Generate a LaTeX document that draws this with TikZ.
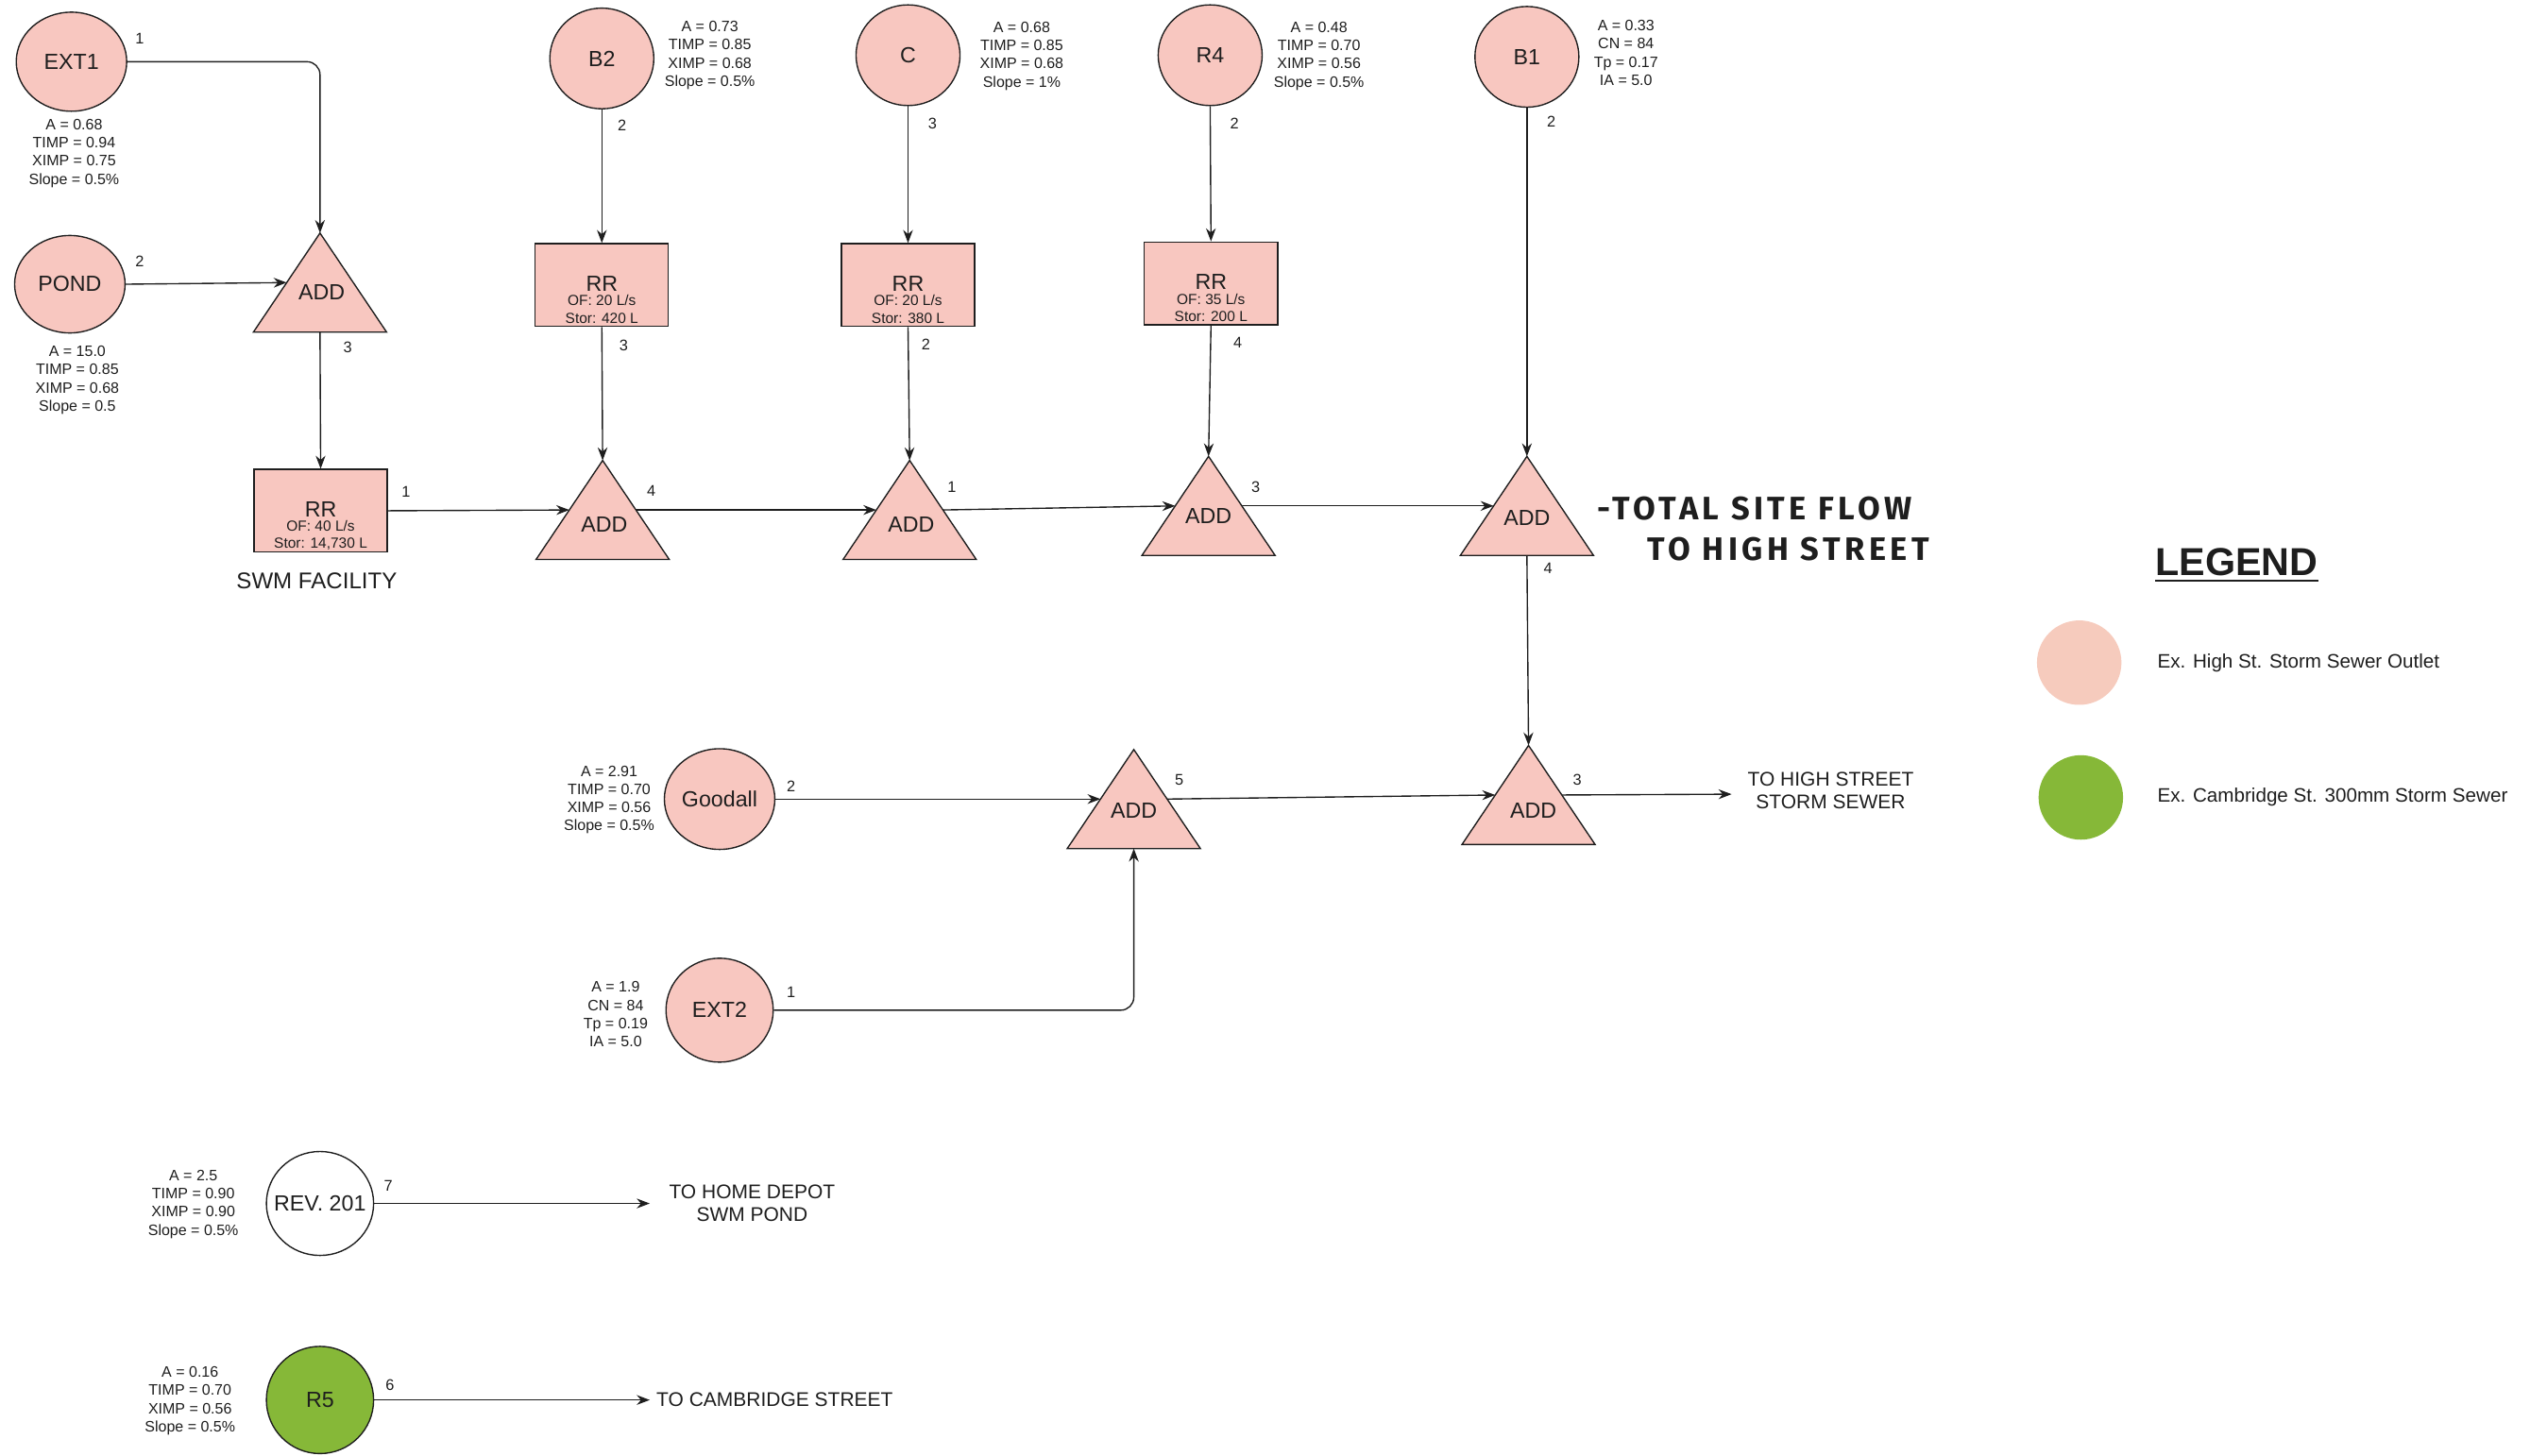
\documentclass[tikz,border=0pt]{standalone}
\usepackage{fontspec}
\setmainfont{Liberation Sans}
\newfontfamily\handfont[LetterSpace=13]{Fira Sans}
\usetikzlibrary{arrows.meta,calc,shapes.geometric}
\pgfdeclarelayer{background}
\pgfsetlayers{background,main}
\definecolor{pinkfill}{RGB}{248,199,192}
\definecolor{legpink}{RGB}{246,203,189}
\definecolor{grn}{RGB}{134,184,56}
\definecolor{ink}{RGB}{30,30,30}
\begin{document}
\begin{tikzpicture}[x=1pt,y=-1pt,
  sub/.style={ellipse, draw=ink, line width=0.8pt, fill=pinkfill, minimum width=66pt, minimum height=62pt, inner sep=0pt, text=ink, font=\fontsize{13.5}{16}\selectfont},
  tri/.style={rectangle, minimum width=82pt, minimum height=61pt, inner sep=0pt, outer sep=0pt},
  triline/.style={draw=ink, line width=0.8pt, fill=pinkfill, line join=miter},
  rrbox/.style={rectangle, draw=ink, line width=0.8pt, fill=pinkfill, minimum width=82pt, minimum height=51pt, inner sep=0pt},
  big/.style={inner sep=0pt, text=ink, font=\fontsize{13.5}{16}\selectfont},
  small/.style={inner sep=0pt, text=ink, font=\fontsize{9}{10}\selectfont},
  param/.style={align=center, inner sep=0pt, text=ink, font=\fontsize{9.3}{11.2}\selectfont},
  num/.style={inner sep=0pt, text=ink, font=\fontsize{9.5}{10}\selectfont},
  dest/.style={align=center, inner sep=0pt, text=ink, font=\fontsize{12.2}{14}\selectfont},
  flow/.style={draw=ink, line width=0.8pt, -{Stealth[length=8pt,width=6pt]}},
  hand/.style={anchor=west, inner sep=0pt, text=ink, font=\handfont\bfseries\fontsize{20}{22}\selectfont}
]
\useasboundingbox (0,0) rectangle (1568,896);

% ---- sub-catchments
\node[sub, minimum width=68pt, minimum height=61pt] (ext1) at (44,38) {EXT1};
\node[sub, minimum width=68pt, minimum height=60pt] (pond) at (43,175) {POND};
\node[sub, minimum width=64pt] (b2) at (370.5,36) {B2};
\node[sub, minimum width=64pt] (c) at (559,34) {C};
\node[sub, minimum width=64pt] (r4) at (745,34) {R4};
\node[sub, minimum width=64pt] (b1) at (940,35) {B1};
\node[sub, minimum width=68pt] (good) at (443,492) {\makebox[0pt]{Goodall}};
\node[sub, minimum height=64pt] (ext2) at (443,622) {EXT2};
\node[sub, fill=white, minimum height=64pt] (rev) at (197,741) {\makebox[0pt]{REV. 201}};
\node[sub, fill=grn, minimum height=66pt] (r5) at (197,862) {R5};

% ---- parameters
\node[param] (p-ext1) at (45.6,94.3) {A = 0.68\\TIMP = 0.94\\XIMP = 0.75\\Slope = 0.5\%};
\node[param] (p-pond) at (47.6,234) {A = 15.0\\TIMP = 0.85\\XIMP = 0.68\\Slope = 0.5};
\node[param] (p-b2) at (437,34) {A = 0.73\\TIMP = 0.85\\XIMP = 0.68\\Slope = 0.5\%};
\node[param] (p-c) at (629,34.5) {A = 0.68\\TIMP = 0.85\\XIMP = 0.68\\Slope = 1\%};
\node[param] (p-r4) at (812,34.5) {A = 0.48\\TIMP = 0.70\\XIMP = 0.56\\Slope = 0.5\%};
\node[param] (p-b1) at (1001,32.5) {A = 0.33\\CN = 84\\Tp = 0.17\\IA = 5.0};
\node[param] (p-good) at (375,492.5) {A = 2.91\\TIMP = 0.70\\XIMP = 0.56\\Slope = 0.5\%};
\node[param] (p-ext2) at (379,624.5) {A = 1.9\\CN = 84\\Tp = 0.19\\IA = 5.0};
\node[param] (p-rev) at (119,741.5) {A = 2.5\\TIMP = 0.90\\XIMP = 0.90\\Slope = 0.5\%};
\node[param] (p-r5) at (117,862.5) {A = 0.16\\TIMP = 0.70\\XIMP = 0.56\\Slope = 0.5\%};

% ---- ADD triangles (bounding nodes)
\node[tri] (a1) at (197,174) {};
\node[tri] (a2) at (371,314) {};
\node[tri] (a3) at (560,314) {};
\node[tri] (a4) at (744,311.5) {};
\node[tri] (a5) at (940,311.5) {};
\node[tri] (a6) at (698,492) {};
\node[tri] (a7) at (941,489.5) {};
\begin{pgfonlayer}{background}
\foreach \n in {a1,a2,a3,a4,a5,a6,a7}
  \path[triline] (\n.south west) -- (\n.north) -- (\n.south east) -- cycle;
\end{pgfonlayer}
\node[big] (t-a1) at (198,180) {ADD};
\node[big] (t-a2) at (372,323) {ADD};
\node[big] (t-a3) at (561,323) {ADD};
\node[big] (t-a4) at (744,318) {ADD};
\node[big] (t-a5) at (940,319) {ADD};
\node[big] (t-a6) at (698,499) {ADD};
\node[big] (t-a7) at (944,499) {ADD};

% ---- RR boxes
\node[rrbox] (rr1) at (197.4,314.5) {};
\node[rrbox] (rr2) at (370.5,175.5) {};
\node[rrbox] (rr3) at (559,175.5) {};
\node[rrbox] (rr4) at (745.5,174.5) {};
\foreach \n/\of/\st in {rr1/40/14{,}730, rr2/20/420, rr3/20/380, rr4/35/200}{
  \node[big] (\n-t) at ([yshift=1pt]\n.center) {RR};
  \node[small] (\n-of) at ([yshift=-9.5pt]\n.center) {OF: \of\ L/s};
  \node[small] (\n-st) at ([yshift=-20.5pt]\n.center) {Stor: \st\ L};
}
\node[big, font=\fontsize{14}{16}\selectfont] (swm) at (195,357.5) {SWM FACILITY};

% ---- flow numbers
\node[num] (n1) at (86,24) {1};
\node[num] (n2) at (86,161) {2};
\node[num] (n3) at (214,214) {3};
\node[num] (n4) at (250,303) {1};
\node[num] (n5) at (383,77) {2};
\node[num] (n6) at (384,213) {3};
\node[num] (n7) at (401,302) {4};
\node[num] (n8) at (574,76) {3};
\node[num] (n9) at (570,212) {2};
\node[num] (n10) at (586,300) {1};
\node[num] (n11) at (760,76) {2};
\node[num] (n12) at (762,211) {4};
\node[num] (n13) at (773,300) {3};
\node[num] (n14) at (955,75) {2};
\node[num] (n15) at (953,350) {4};
\node[num] (n16) at (487,484) {2};
\node[num] (n17) at (726,480) {5};
\node[num] (n18) at (971,480) {3};
\node[num] (n19) at (487,611) {1};
\node[num] (n20) at (239,730) {7};
\node[num] (n21) at (240,853) {6};

% ---- destinations
\coordinate (hs) at (1066,489);
\coordinate (hd) at (400,741);
\coordinate (cs) at (400,862);
\node[dest] (d-hs) at (1127,487) {TO HIGH STREET\\STORM SEWER};
\node[dest] (d-hd) at (463,741) {TO HOME DEPOT\\SWM POND};
\node[dest, anchor=west] (d-cs) at (404,862) {TO CAMBRIDGE STREET};

% ---- handwritten note
\node[hand] (h1) at (983,313) {-TOTAL SITE FLOW};
\node[hand] (h2) at (1014,338) {TO HIGH STREET};

% ---- legend
\node[inner sep=0pt, text=ink, font=\bfseries\fontsize{24}{26}\selectfont] (leg) at (1377,346) {LEGEND};
\draw[ink, line width=1.4pt] ([yshift=-3pt]leg.south west) -- ([yshift=-3pt]leg.south east);
\node[circle, fill=legpink, minimum size=52pt, inner sep=0pt] (lg1) at (1280,408) {};
\node[circle, fill=grn, minimum size=52pt, inner sep=0pt] (lg2) at (1281,491) {};
\node[anchor=west, inner sep=0pt, text=ink, font=\fontsize{12}{13}\selectfont] (lt1) at (1328,408) {Ex. High St. Storm Sewer Outlet};
\node[anchor=west, inner sep=0pt, text=ink, font=\fontsize{12}{13}\selectfont] (lt2) at (1328,491) {Ex. Cambridge St. 300mm Storm Sewer};

% ---- connectors
\draw[flow, rounded corners=8pt] (ext1.east) -| (a1.north);
\draw[flow] (pond.east) -- ($(a1.south west)!0.5!(a1.north)$);
\draw[flow] (a1.south) -- (rr1.north);
\draw[flow] (rr1.east) -- ($(a2.south west)!0.5!(a2.north)$);
\draw[flow] (b2.south) -- (rr2.north);
\draw[flow] (rr2.south) -- (a2.north);
\draw[flow] ($(a2.south east)!0.5!(a2.north)$) -- ($(a3.south west)!0.5!(a3.north)$);
\draw[flow] (c.south) -- (rr3.north);
\draw[flow] (rr3.south) -- (a3.north);
\draw[flow] ($(a3.south east)!0.5!(a3.north)$) -- ($(a4.south west)!0.5!(a4.north)$);
\draw[flow] (r4.south) -- (rr4.north);
\draw[flow] (rr4.south) -- (a4.north);
\draw[flow] ($(a4.south east)!0.5!(a4.north)$) -- ($(a5.south west)!0.5!(a5.north)$);
\draw[flow] (b1.south) -- (a5.north);
\draw[flow] (a5.south) -- (a7.north);
\draw[flow] (good.east) -- ($(a6.south west)!0.5!(a6.north)$);
\draw[flow, rounded corners=8pt] (ext2.east) -| (a6.south);
\draw[flow] ($(a6.south east)!0.5!(a6.north)$) -- ($(a7.south west)!0.5!(a7.north)$);
\draw[flow] ($(a7.south east)!0.5!(a7.north)$) -- (hs);
\draw[flow] (rev.east) -- (hd);
\draw[flow] (r5.east) -- (cs);
\end{tikzpicture}
\end{document}
